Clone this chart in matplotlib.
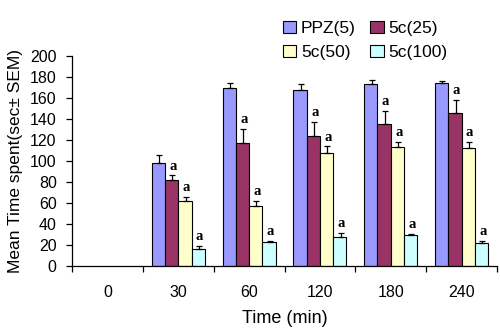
import numpy as np
import matplotlib
matplotlib.use("Agg")
import matplotlib.pyplot as plt

# Time points and group means (sec +/- SEM); no bars at 0 min
times = ["0", "30", "60", "120", "180", "240"]
series = ["PPZ(5)", "5c(25)", "5c(50)", "5c(100)"]

ppz = [np.nan, 98.5, 169.5, 167.5, 173.5, 174.5]
ppz_err = [0, 7.5, 5, 5.5, 4, 2]
c25 = [np.nan, 81.5, 117, 123.5, 135, 146]
c25_err = [0, 5, 14, 14, 13, 12.5]
c50 = [np.nan, 61.5, 57.5, 108, 113, 112]
c50_err = [0, 4.5, 4.5, 6, 5.5, 6.5]
c100 = [np.nan, 16, 23, 28, 29.5, 22]
c100_err = [0, 3.5, 1, 3.5, 1, 2]

# significance marks drawn on the three 5c groups
sig = "a"

values = [ppz, c25, c50, c100]
errors = [ppz_err, c25_err, c50_err, c100_err]
colors = ["#9999FF", "#993366", "#FFFFCC", "#CCFFFF"]

plt.rcParams["font.family"] = ["Liberation Sans", "DejaVu Sans"]

fig = plt.figure(figsize=(5.0, 3.34), dpi=100)
ax = fig.add_axes([0.144, 0.2036, 0.85, 0.6284])

x = np.arange(len(times))
w = 0.1875
handles = []
for i, (vals, errs, col, name) in enumerate(zip(values, errors, colors, series)):
    pos = x + (i - 1.5) * w
    vals = np.array(vals, dtype=float)
    errs = np.array(errs, dtype=float)
    h = ax.bar(pos, vals, width=w, color=col, edgecolor="black", linewidth=0.8,
               label=name, zorder=2)
    handles.append(h)
    ok = ~np.isnan(vals)
    ax.errorbar(pos[ok] + 0.01, vals[ok], yerr=[np.zeros(ok.sum()), errs[ok]],
                fmt="none", ecolor="black", elinewidth=0.9, capsize=2.2,
                capthick=0.9, zorder=3)
    if i > 0:
        for p, v, e in zip(pos[ok], vals[ok], errs[ok]):
            ax.annotate(sig, (p + 0.02, v + e), xytext=(0, 4),
                        textcoords="offset points", ha="center", va="baseline",
                        fontsize=10.5, fontweight="bold",
                        family="Liberation Serif")

ax.set_xlim(-0.5, len(times) - 0.5)
ax.set_ylim(0, 200)
ax.set_yticks(np.arange(0, 201, 20))
ax.set_xticks(x)
ax.set_xticklabels(times)
ax.set_xticks(np.arange(-0.5, len(times), 1), minor=True)
ax.tick_params(axis="x", which="major", length=0, pad=14, labelsize=11.5)
ax.tick_params(axis="x", which="minor", length=4, width=0.9, direction="out")
ax.tick_params(axis="y", length=4, width=0.9, direction="out", labelsize=11.5,
               pad=7)

for s in ["top", "right"]:
    ax.spines[s].set_visible(False)
for s in ["left", "bottom"]:
    ax.spines[s].set_linewidth(0.9)

ax.set_ylabel("Mean Time spent(sec± SEM)", fontsize=12.5, labelpad=5)
ax.set_xlabel("Time (min)", fontsize=13, labelpad=7)

# legend filled row by row: PPZ(5), 5c(25) / 5c(50), 5c(100)
order = [0, 2, 1, 3]
fig.legend([handles[k] for k in order], [series[k] for k in order],
           loc="upper left", bbox_to_anchor=(0.534, 0.985), ncol=2,
           frameon=False, fontsize=12.5, handlelength=0.75, handleheight=0.75,
           handletextpad=0.3, columnspacing=0.85, labelspacing=0.5)

fig.savefig("out.png", dpi=100)
